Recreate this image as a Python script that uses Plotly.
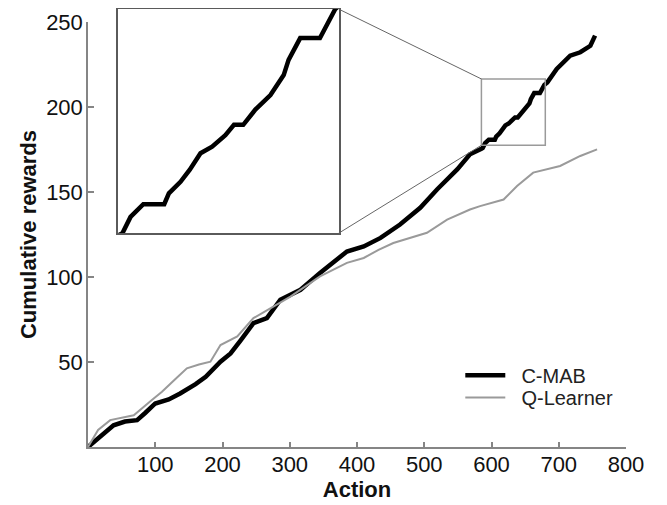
import plotly.graph_objects as go

# ---- data ----
cmab_x = [0, 15, 38, 55, 73, 85, 100, 120, 137, 160, 175, 197, 212, 227, 246, 266, 286, 316, 345, 385,
          410, 435, 464, 494, 519, 549, 568, 585, 587, 590.5, 596, 605, 607, 612, 616, 620.6, 625.6,
          631.3, 635, 639, 641.3, 644.2, 650.7, 653.5, 656.4, 658.5, 661.4, 663.5, 672, 674.3, 676.5,
          678.6, 683, 697, 717, 732, 747, 754]
cmab_y = [0, 5, 12.8, 15, 15.8, 20, 25.6, 28, 31.5, 37, 41.3, 50.2, 55, 62.7, 72.8, 75.8, 86.6, 92.5,
          102.4, 115, 118, 123, 130.9, 140.7, 151.5, 163.3, 172.2, 175.5, 176, 178.7, 180.8, 180.8,
          182.6, 184.5, 186.5, 189.2, 190.3, 192.2, 193.9, 193.9, 195, 196.4, 198.8, 200.5, 202.1,
          204.6, 206.8, 208.2, 208.2, 209.9, 211.5, 213, 214.5, 222.4, 230.2, 232.2, 236, 242]

ql_x = [0, 15, 33, 50, 68, 95, 110, 130, 147, 165, 182, 197, 222, 246, 271, 301, 345, 385, 410, 432,
        454, 504, 534, 568, 583, 618, 638, 662, 702, 732, 757]
ql_y = [0, 10, 15.8, 17, 18.7, 27.6, 32.5, 40, 46.3, 48.5, 50.2, 60, 65, 75.8, 81.7, 88.5, 100.4,
        108.3, 111.2, 116, 120, 126, 133.8, 139.7, 141.7, 145.6, 153.5, 161.4, 165.3, 171.2, 175.1]

series_names = ["C-MAB", "Q-Learner"]
x_ticks = [100, 200, 300, 400, 500, 600, 700, 800]
y_ticks = [50, 100, 150, 200, 250]
x_range = [0, 800]
y_range = [0, 250]
zoom_x = [585, 680]          # zoom window on the main axes
zoom_y = [177.5, 216.5]
inset_y = [176, 213]         # y limits of the inset axes

# ---- layout geometry ----
MAIN_XD = [0, 1]
MAIN_YD = [0, 0.9703]
INSET_XD = [0.0553, 0.4657]
INSET_YD = [0.4879, 1.0]

FONT = "Arial, Liberation Sans, sans-serif"
AX = "#858585"
NB = "\u00a0\u00a0"

def px(x):
    return MAIN_XD[0] + (x - x_range[0]) / (x_range[1] - x_range[0]) * (MAIN_XD[1] - MAIN_XD[0])

def py(y):
    return MAIN_YD[0] + (y - y_range[0]) / (y_range[1] - y_range[0]) * (MAIN_YD[1] - MAIN_YD[0])

fig = go.Figure()
fig.add_trace(go.Scatter(x=cmab_x, y=cmab_y, mode="lines", name=NB + series_names[0],
                         line=dict(color="black", width=4.5), legend="legend"))
fig.add_trace(go.Scatter(x=ql_x, y=ql_y, mode="lines", name=NB + series_names[1],
                         line=dict(color="#9a9a9a", width=2), legend="legend2"))
# inset
fig.add_trace(go.Scatter(x=cmab_x, y=cmab_y, mode="lines", showlegend=False,
                         line=dict(color="black", width=4.5), xaxis="x2", yaxis="y2"))

leg_common = dict(x=0.692, xanchor="left", yanchor="middle", itemwidth=40,
                  bgcolor="rgba(0,0,0,0)", font=dict(size=20, color="#222"))

fig.update_layout(
    width=659, height=497,
    margin=dict(l=79.5, r=41, t=1.3, b=58.3, autoexpand=False),
    paper_bgcolor="white", plot_bgcolor="white",
    font=dict(family=FONT, size=22, color="#111"),
    showlegend=True,
    legend=dict(y=0.1639, **leg_common),
    legend2=dict(y=0.1132, **leg_common),
    xaxis=dict(domain=MAIN_XD, range=x_range, tickvals=x_ticks, ticks="inside", ticklen=5,
               tickcolor=AX, tickwidth=1.5, showline=True, linecolor=AX, linewidth=1.5,
               showgrid=False, zeroline=False, automargin=False, ticklabelstandoff=-3,
               title=dict(text="<b>Action</b>", standoff=2, font=dict(size=22))),
    yaxis=dict(domain=MAIN_YD, range=y_range, tickvals=y_ticks, ticks="inside", ticklen=6,
               tickcolor=AX, tickwidth=1.5, showline=True, linecolor=AX, linewidth=1.5,
               showgrid=False, zeroline=False, automargin=False, ticklabelstandoff=-1,
               title=dict(text="<b>Cumulative rewards</b>", standoff=3, font=dict(size=22))),
    xaxis2=dict(domain=INSET_XD, range=zoom_x, anchor="y2", showticklabels=False, ticks="",
                showline=True, mirror=True, linecolor="#5a5a5a", linewidth=1.5,
                showgrid=False, zeroline=False),
    yaxis2=dict(domain=INSET_YD, range=inset_y, anchor="x2", showticklabels=False, ticks="",
                showline=True, mirror=True, linecolor="#5a5a5a", linewidth=1.5,
                showgrid=False, zeroline=False),
)

# zoom rectangle on main axes
fig.add_shape(type="rect", xref="x", yref="y", x0=zoom_x[0], x1=zoom_x[1], y0=zoom_y[0], y1=zoom_y[1],
              line=dict(color="#9a9a9a", width=1.5))
# connector lines
fig.add_shape(type="line", xref="paper", yref="paper", x0=INSET_XD[1], y0=INSET_YD[1],
              x1=px(zoom_x[0]), y1=py(zoom_y[1]), line=dict(color="#666", width=1))
fig.add_shape(type="line", xref="paper", yref="paper", x0=INSET_XD[1], y0=INSET_YD[0],
              x1=px(zoom_x[0]), y1=py(zoom_y[0]), line=dict(color="#666", width=1))

fig.write_html("out.html")
